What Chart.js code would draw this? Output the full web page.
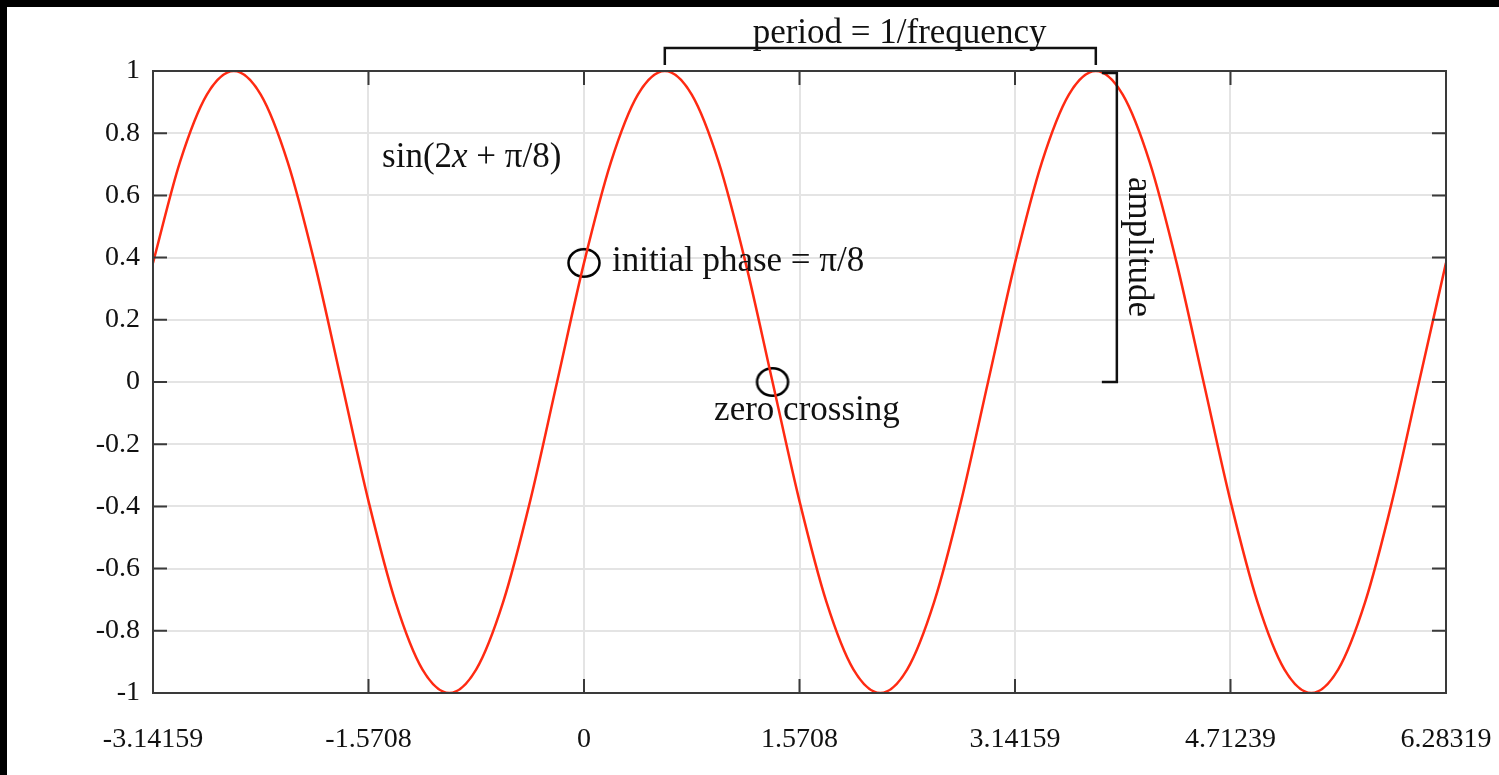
<!DOCTYPE html>
<html>
<head>
<meta charset="utf-8">
<script src="https://cdn.jsdelivr.net/npm/chart.js@4.4.1/dist/chart.umd.min.js"></script>
<style>
  html, body { margin: 0; padding: 0; background: #000; }
  #wrap { position: absolute; left: 7px; top: 7px; width: 1492px; height: 768px; background: #fff; }
</style>
</head>
<body>
<div id="wrap"><canvas id="sineChart" width="1492" height="768"></canvas></div>
<script>
// samples (peaks, zero crossings and points between)
const xValues = [
  -3.1416, -2.9452, -2.7489, -2.5525, -2.3562, -2.1598, -1.9635, -1.7671,
  -1.5708, -1.3744, -1.1781, -0.9817, -0.7854, -0.5890, -0.3927, -0.1963,
  0, 0.1963, 0.3927, 0.5890, 0.7854, 0.9817, 1.1781, 1.3744,
  1.5708, 1.7671, 1.9635, 2.1598, 2.3562, 2.5525, 2.7489, 2.9452,
  3.1416, 3.3379, 3.5343, 3.7306, 3.9270, 4.1233, 4.3197, 4.5160,
  4.7124, 4.9087, 5.1051, 5.3014, 5.4978, 5.6941, 5.8905, 6.0868, 6.2832
];
const yValues = [
  0.383, 0.707, 0.924, 1, 0.924, 0.707, 0.383, 0,
  -0.383, -0.707, -0.924, -1, -0.924, -0.707, -0.383, 0,
  0.383, 0.707, 0.924, 1, 0.924, 0.707, 0.383, 0,
  -0.383, -0.707, -0.924, -1, -0.924, -0.707, -0.383, 0,
  0.383, 0.707, 0.924, 1, 0.924, 0.707, 0.383, 0,
  -0.383, -0.707, -0.924, -1, -0.924, -0.707, -0.383, 0, 0.383
];
const markerX = [0, 1.3744];
const markerY = [0.383, 0];

const xTickValues = [-3.14159, -1.5708, 0, 1.5708, 3.14159, 4.71239, 6.28319];
const xTickLabels = ["-3.14159", "-1.5708", "0", "1.5708", "3.14159", "4.71239", "6.28319"];
const yTickValues = [-1, -0.8, -0.6, -0.4, -0.2, 0, 0.2, 0.4, 0.6, 0.8, 1];
const yTickLabels = ["-1", "-0.8", "-0.6", "-0.4", "-0.2", "0", "0.2", "0.4", "0.6", "0.8", "1"];

// where the bracket notes sit (x values of the two marked peaks)
const periodFrom = 0.589, periodTo = 3.7306;
const amplitudeX = 3.884;

const serif = '"Liberation Serif", "Times New Roman", serif';
const gridColor = "#e4e4e4";
const frameColor = "#3a3a3a";

// open ellipse used as marker
function ringImage() {
  const c = document.createElement("canvas");
  c.width = 36; c.height = 32;
  const g = c.getContext("2d");
  g.strokeStyle = "#000";
  g.lineWidth = 2.5;
  g.beginPath();
  g.ellipse(18, 16, 15.5, 13.8, 0, 0, Math.PI * 2);
  g.stroke();
  return c;
}

const notes = {
  id: "notes",
  afterDraw(chart) {
    const { ctx, chartArea: a, scales: { x, y } } = chart;
    ctx.save();

    // frame
    ctx.strokeStyle = frameColor;
    ctx.lineWidth = 2;
    ctx.strokeRect(a.left, a.top, a.right - a.left, a.bottom - a.top);

    // inner ticks on all four sides
    ctx.beginPath();
    xTickValues.forEach(v => {
      const px = x.getPixelForValue(v);
      ctx.moveTo(px, a.top); ctx.lineTo(px, a.top + 14);
      ctx.moveTo(px, a.bottom); ctx.lineTo(px, a.bottom - 14);
    });
    yTickValues.forEach(v => {
      const py = y.getPixelForValue(v);
      ctx.moveTo(a.left, py); ctx.lineTo(a.left + 14, py);
      ctx.moveTo(a.right, py); ctx.lineTo(a.right - 14, py);
    });
    ctx.stroke();

    ctx.fillStyle = "#111";
    ctx.strokeStyle = "#111";
    ctx.font = "35px " + serif;
    ctx.textBaseline = "alphabetic";

    // sin(2x + π/8) with italic x
    let tx = x.getPixelForValue(-1.472);
    const ty = y.getPixelForValue(0.691);
    ctx.textAlign = "left";
    const parts = [["sin(2", "35px " + serif], ["x", "italic 35px " + serif], [" + π/8)", "35px " + serif]];
    parts.forEach(([t, f]) => {
      ctx.font = f;
      ctx.fillText(t, tx, ty);
      tx += ctx.measureText(t).width;
    });
    ctx.font = "35px " + serif;

    ctx.fillText("initial phase = π/8", x.getPixelForValue(0.204), y.getPixelForValue(0.357));
    ctx.textAlign = "center";
    ctx.fillText("zero crossing", x.getPixelForValue(1.625), y.getPixelForValue(-0.122));

    // period bracket
    const p1 = x.getPixelForValue(periodFrom), p2 = x.getPixelForValue(periodTo);
    ctx.lineWidth = 2.5;
    ctx.beginPath();
    ctx.moveTo(p1, a.top - 6); ctx.lineTo(p1, a.top - 23);
    ctx.lineTo(p2, a.top - 23); ctx.lineTo(p2, a.top - 6);
    ctx.stroke();
    ctx.fillText("period = 1/frequency", x.getPixelForValue(2.3), a.top - 28);

    // amplitude bracket
    const ax = x.getPixelForValue(amplitudeX);
    const top = y.getPixelForValue(1) + 2, zero = y.getPixelForValue(0);
    ctx.beginPath();
    ctx.moveTo(ax - 15, top); ctx.lineTo(ax, top);
    ctx.lineTo(ax, zero); ctx.lineTo(ax - 15, zero);
    ctx.stroke();
    ctx.save();
    ctx.translate(ax + 12, y.getPixelForValue(0.434));
    ctx.rotate(Math.PI / 2);
    ctx.fillText("amplitude", 0, 0);
    ctx.restore();

    ctx.restore();
  }
};

new Chart(document.getElementById("sineChart"), {
  type: "line",
  data: {
    datasets: [
      {
        label: "sin(2x + π/8)",
        data: xValues.map((v, i) => ({ x: v, y: yValues[i] })),
        borderColor: "#ff2a12",
        borderWidth: 2.5,
        pointRadius: 0,
        fill: false,
        cubicInterpolationMode: "monotone"
      },
      {
        type: "scatter",
        label: "marks",
        data: markerX.map((v, i) => ({ x: v, y: markerY[i] })),
        pointStyle: ringImage(),
        pointRadius: 16,
        clip: false
      }
    ]
  },
  options: {
    responsive: false,
    animation: false,
    devicePixelRatio: 1,
    layout: { padding: { left: 0, top: 64, right: 53, bottom: 0 } },
    plugins: { legend: { display: false }, tooltip: { enabled: false } },
    scales: {
      x: {
        type: "linear",
        min: -3.14159,
        max: 6.28319,
        afterBuildTicks: s => { s.ticks = xTickValues.map(v => ({ value: v })); },
        afterFit: s => { s.height = 82; s.paddingLeft = 0; s.paddingRight = 0; },
        ticks: {
          callback: (v, i) => xTickLabels[i],
          font: { family: serif, size: 28 },
          color: "#111",
          padding: 30,
          maxRotation: 0,
          autoSkip: false
        },
        grid: { color: gridColor, lineWidth: 2, drawTicks: false },
        border: { display: false }
      },
      y: {
        min: -1,
        max: 1,
        afterBuildTicks: s => { s.ticks = yTickValues.map(v => ({ value: v })); },
        afterFit: s => { s.width = 146; s.paddingTop = 0; s.paddingBottom = 0; },
        ticks: {
          callback: (v, i) => yTickLabels[i],
          font: { family: serif, size: 28 },
          color: "#111",
          padding: 13,
          autoSkip: false
        },
        grid: { color: gridColor, lineWidth: 2, drawTicks: false },
        border: { display: false }
      }
    }
  },
  plugins: [notes]
});
</script>
</body>
</html>
